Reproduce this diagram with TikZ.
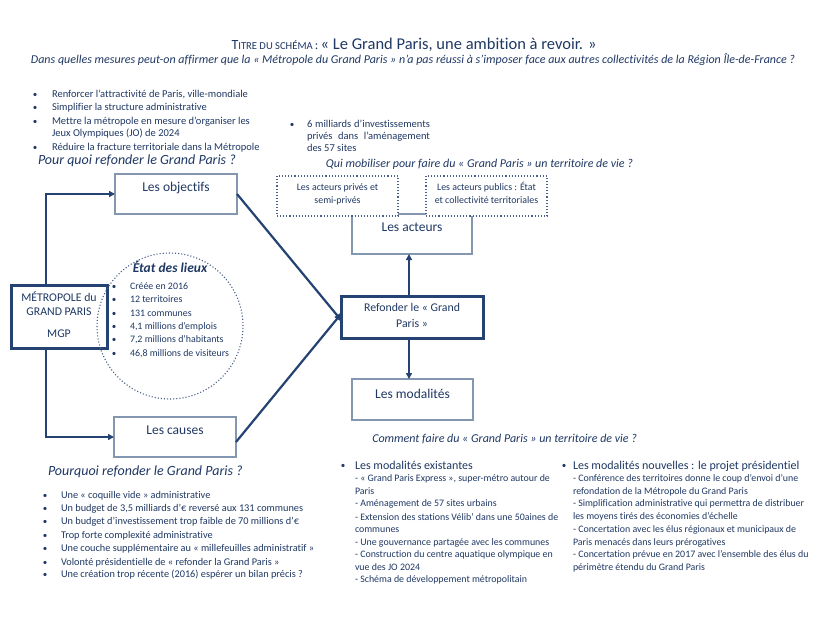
\documentclass[tikz,border=0pt]{standalone}
\usepackage{fontspec}
\setmainfont{Carlito}[Ligatures=NoCommon]
\usetikzlibrary{arrows.meta}
\definecolor{navy}{HTML}{1F3864}
\definecolor{boxgray}{HTML}{8497B0}
\definecolor{darkb}{HTML}{254372}
\definecolor{dotc}{HTML}{4A6088}
\begin{document}
\begin{tikzpicture}[x=1pt,y=-1pt,
  every node/.style={text=navy, inner sep=0pt, outer sep=0pt},
  body/.style={font=\fontsize{10.5}{12}\selectfont, anchor=base west},
  small/.style={font=\fontsize{9.9}{12}\selectfont, anchor=base west},
  bul/.style={font=\fontsize{9}{10}\selectfont, anchor=base},
  ques/.style={font=\fontsize{14}{16}\selectfont\itshape, anchor=base west},
  quesb/.style={font=\fontsize{12}{14}\selectfont\itshape, anchor=base west},
  lbox/.style={draw=boxgray, line width=1.8pt, rectangle},
  tbox/.style={draw=darkb, line width=3pt, rectangle},
  dbox/.style={draw=dotc, line width=1.1pt, dotted, fill=white, rectangle},
  blabel/.style={font=\fontsize{13.5}{15}\selectfont, anchor=base},
  mid/.style={font=\fontsize{11.8}{13}\selectfont, anchor=base},
  arr/.style={draw=darkb, line width=2.2pt, -{Triangle[length=6pt,width=6pt]}},
]
\useasboundingbox[fill=white] (0,0) rectangle (829,621);

% title
\node[anchor=base] (title) at (414,49) {{\fontsize{14}{16}\selectfont T}{\fontsize{10.6}{12}\selectfont ITRE DU SCHÉMA} {\fontsize{13}{15}\selectfont :} {\fontsize{16.5}{18}\selectfont « Le Grand Paris, une ambition à revoir. »}};
\node[anchor=base] (subtitle) at (413,63) {\fontsize{12}{14}\selectfont\itshape Dans quelles mesures peut-on affirmer que la « Métropole du Grand Paris » n’a pas réussi à s’imposer face aux autres collectivités de la Région Île-de-France ?};

% top-left list
\foreach \yy/\t [count=\i] in {97/{Renforcer l’attractivité de Paris, ville-mondiale},110/{Simplifier la structure administrative},124/{Mettre la métropole en mesure d’organiser les},150/{Réduire la fracture territoriale dans la Métropole}}{
  \node[bul] (tlb\i) at (35,\yy) {•};
  \node[body] (tl\i) at (52,\yy) {\t};
}
\node[body] (tl3b) at (52,136) {Jeux Olympiques (JO) de 2024};
\node[ques] (q1) at (38,164) {Pour quoi refonder le Grand Paris ?};

% top-middle
\node[bul] (tmb) at (292,127) {•};
\node[body] (tm1) at (307,127) {\makebox[123pt][s]{6 milliards d’investissements}};
\node[body] (tm2) at (307,139) {\makebox[123pt][s]{privés dans l’aménagement}};
\node[body] (tm3) at (307,151) {des 57 sites};
\node[quesb, anchor=base east] (q2) at (633,167) {Qui mobiliser pour faire du « Grand Paris » un territoire de vie ?};

% boxes
\node[lbox, minimum width=120pt, minimum height=40pt] (acteurs) at (412,234) {};
\node[blabel] (acteursl) at (412,231) {Les acteurs};
\node[dbox, minimum width=121pt, minimum height=40pt] (prives) at (337.5,196) {};
\node[small, anchor=base] (prives1) at (337.5,190) {Les acteurs privés et};
\node[small, anchor=base] (prives2) at (337.5,203) {semi-privés};
\node[dbox, minimum width=121pt, minimum height=40pt] (publics) at (486.5,196) {};
\node[small, anchor=base] (publics1) at (486.5,190) {Les acteurs publics : État};
\node[small, anchor=base] (publics2) at (486.5,203) {et collectivité territoriales};

\node[lbox, minimum width=122pt, minimum height=40pt] (objectifs) at (176,194) {};
\node[blabel] (objectifsl) at (176,191) {Les objectifs};
\node[lbox, minimum width=122pt, minimum height=40pt] (causes) at (175,437) {};
\node[blabel] (causesl) at (175,434) {Les causes};
\node[lbox, minimum width=121pt, minimum height=41pt] (modalites) at (412.5,399.5) {};
\node[blabel] (modalitesl) at (412.5,398) {Les modalités};

\node[tbox, minimum width=96pt, minimum height=63pt] (mgp) at (59,316.5) {};
\node[mid] (mgp1) at (59,301) {MÉTROPOLE du};
\node[mid] (mgp2) at (59,315) {GRAND PARIS};
\node[mid] (mgp3) at (59,337) {MGP};

\node[tbox, minimum width=142pt, minimum height=42pt] (refonder) at (412,317) {};
\node[mid] (ref1) at (412,311) {Refonder le « Grand};
\node[mid] (ref2) at (412,327) {Paris »};

% circle
\node[circle, draw=dotc, line width=1.1pt, dotted, minimum size=146pt] (etat) at (170,326) {};
\node[font=\fontsize{13.5}{15}\selectfont\bfseries\itshape, anchor=base] (etatl) at (170,272) {État des lieux};
\foreach \yy/\t [count=\i] in {289/{Créée en 2016},302/{12 territoires},316/{131 communes},329/{4,1 millions d’emplois},342/{7,2 millions d’habitants},356/{46,8 millions de visiteurs}}{
  \node[bul] (cb\i) at (114,\yy) {•};
  \node[small] (c\i) at (130,\yy) {\t};
}

% connectors
\draw[arr] ([xshift=-13pt]mgp.north) |- (objectifs.west);
\draw[arr] ([xshift=-13pt]mgp.south) |- (causes.west);
\draw[arr] (objectifs.east) -- ([yshift=-3pt]refonder.west);
\draw[arr] ([yshift=-5pt]causes.east) -- ([yshift=3pt]refonder.west);
\draw[arr] ([xshift=-3pt]refonder.north) -- ([xshift=-3pt]acteurs.south);
\draw[arr] ([xshift=-3pt]refonder.south) -- ([xshift=-3.5pt]modalites.north);

% bottom-left
\node[ques] (q3) at (48,475) {Pourquoi refonder le Grand Paris ?};
\foreach \yy/\t [count=\i] in {498/{Une « coquille vide » administrative},511/{Un budget de 3,5 milliards d’€ reversé aux 131 communes},524/{Un budget d’investissement trop faible de 70 millions d’€},538/{Trop forte complexité administrative},551/{Une couche supplémentaire au « millefeuilles administratif »},565/{Volonté présidentielle de « refonder la Grand Paris »},577/{Une création trop récente (2016) espérer un bilan précis ?}}{
  \node[bul] (blb\i) at (45,\yy) {•};
  \node[font=\fontsize{10.3}{12}\selectfont, anchor=base west] (bl\i) at (61,\yy) {\t};
}

% bottom-middle
\node[quesb, anchor=base east] (q4) at (637,442) {Comment faire du « Grand Paris » un territoire de vie ?};
\node[bul] (bmb) at (343,468) {•};
\node[font=\fontsize{12}{14}\selectfont, anchor=base west] (bmt) at (355,469) {Les modalités existantes};
\foreach \yy/\t [count=\i] in {481/{- « Grand Paris Express », super-métro autour de},494/{Paris},506/{- Aménagement de 57 sites urbains},520/{- Extension des stations Vélib’ dans une 50aines de},532/{communes},545/{- Une gouvernance partagée avec les communes},557/{- Construction du centre aquatique olympique en},570/{vue des JO 2024},582/{- Schéma de développement métropolitain}}{
  \node[small] (bm\i) at (355,\yy) {\t};
}

% bottom-right
\node[bul] (brb) at (564,468) {•};
\node[font=\fontsize{12}{14}\selectfont, anchor=base west] (brt) at (573,469) {Les modalités nouvelles : le projet présidentiel};
\foreach \yy/\t [count=\i] in {481/{- Conférence des territoires donne le coup d’envoi d’une},494/{refondation de la Métropole du Grand Paris},506/{- Simplification administrative qui permettra de distribuer},519/{les moyens tirés des économies d’échelle},532/{- Concertation avec les élus régionaux et municipaux de},545/{Paris menacés dans leurs prérogatives},557/{- Concertation prévue en 2017 avec l’ensemble des élus du},570/{périmètre étendu du Grand Paris}}{
  \node[small] (br\i) at (573,\yy) {\t};
}
\end{tikzpicture}
\end{document}
